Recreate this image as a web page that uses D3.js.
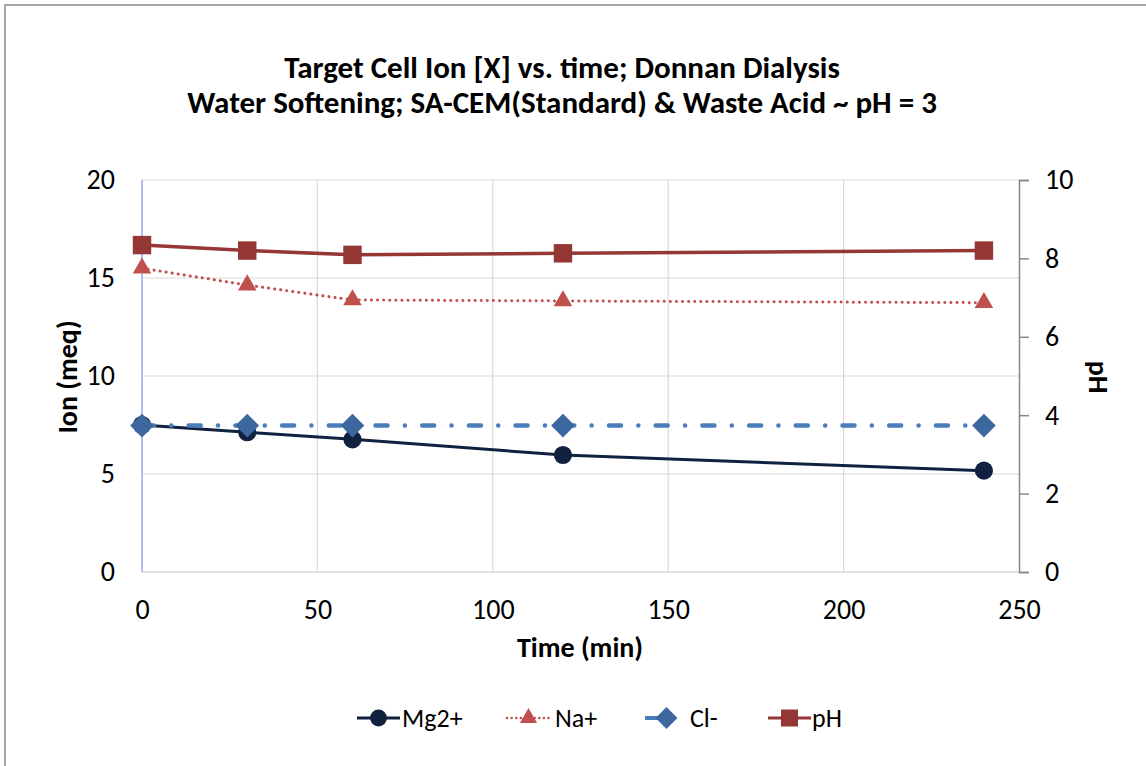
<!DOCTYPE html>
<html><head><meta charset="utf-8">
<script src="https://cdn.jsdelivr.net/npm/d3@7"></script>
<style>body{margin:0;background:#fff;} svg{display:block;font-family:Calibri,Carlito,Lato,"Open Sans",sans-serif;}</style>
</head><body><svg id="c" width="1146" height="766"></svg>
<script>
const times = [0, 30, 60, 120, 240];
const mg = [7.5, 7.13, 6.77, 5.97, 5.17];
const na = [15.5, 14.64, 13.88, 13.83, 13.74];
const cl = [7.47, 7.47, 7.47, 7.47, 7.47];
const ph = [8.34, 8.2, 8.09, 8.13, 8.2];
const xTicks = [0, 50, 100, 150, 200, 250];
const yTicks = [0, 5, 10, 15, 20];
const y2Ticks = [0, 2, 4, 6, 8, 10];
const titleLines = ["Target Cell Ion [X] vs. time; Donnan Dialysis", "Water Softening; SA-CEM(Standard) & Waste Acid ~ pH = 3"];

const FONT = 'Calibri,Carlito,Lato,"Open Sans",sans-serif';
const svg = d3.select("#c");
svg.append("rect").attr("x",5).attr("y",5).attr("width",1160).attr("height",780)
  .attr("fill","#fff").attr("stroke","#a6a6a6").attr("stroke-width",2);

const L=142, R=1019, T=180, B=572;
const x = d3.scaleLinear().domain([0,250]).range([L,R]);
const y = d3.scaleLinear().domain([0,20]).range([B,T]);
const y2 = d3.scaleLinear().domain([0,10]).range([B,T]);
const FS = 28;

svg.append("g").selectAll("line").data(yTicks.filter(d=>d>0)).join("line")
  .attr("x1",L).attr("x2",R).attr("y1",d=>y(d)).attr("y2",d=>y(d)).attr("stroke","#d9d9d9").attr("stroke-width",1.2);
svg.append("g").selectAll("line").data(xTicks.filter(d=>d>0&&d<250)).join("line")
  .attr("y1",T).attr("y2",B).attr("x1",d=>x(d)).attr("x2",d=>x(d)).attr("stroke","#d9d9d9").attr("stroke-width",1.2);
svg.append("line").attr("x1",L).attr("x2",R).attr("y1",B).attr("y2",B).attr("stroke","#d9d9d9").attr("stroke-width",1.5);
svg.append("line").attr("x1",L).attr("x2",L).attr("y1",T).attr("y2",B).attr("stroke","#9aa6ea").attr("stroke-width",1.5);

const ra = svg.append("g").attr("transform",`translate(${R},0)`)
  .call(d3.axisRight(y2).tickValues(y2Ticks).tickSize(10).tickSizeOuter(10).tickPadding(16))
  .attr("font-family",FONT).attr("font-size",FS);
ra.select(".domain").attr("stroke","#868686").attr("stroke-width",1.5);
ra.selectAll(".tick line").attr("stroke","#868686").attr("stroke-width",1.5);
ra.selectAll("text").attr("fill","#000");

const la = svg.append("g").attr("transform",`translate(${L},0)`)
  .call(d3.axisLeft(y).tickValues(yTicks).tickSize(0).tickPadding(27))
  .attr("font-family",FONT).attr("font-size",FS);
la.select(".domain").remove();
la.selectAll("text").attr("fill","#000");
const ba = svg.append("g").attr("transform",`translate(0,${B})`)
  .call(d3.axisBottom(x).tickValues(xTicks).tickSize(0).tickPadding(27))
  .attr("font-family",FONT).attr("font-size",FS);
ba.select(".domain").remove();
ba.selectAll("text").attr("fill","#000");

svg.append("text").attr("text-anchor","middle").attr("font-weight","bold").attr("font-size",31)
  .selectAll("tspan").data(titleLines).join("tspan").attr("x",562).attr("y",(d,i)=>78+i*35).text(d=>d);
svg.append("text").attr("x",580).attr("y",657).attr("text-anchor","middle").attr("font-weight","bold").attr("font-size",28).text("Time (min)");
svg.append("text").attr("transform","translate(77,377) rotate(-90)").attr("text-anchor","middle").attr("font-weight","bold").attr("font-size",28).text("Ion (meq)");
svg.append("text").attr("transform","translate(1089,377) rotate(90)").attr("text-anchor","middle").attr("font-weight","bold").attr("font-size",28).text("pH");

const diamond = {draw(ctx,size){const r=Math.sqrt(size/2);ctx.moveTo(0,-r);ctx.lineTo(r,0);ctx.lineTo(0,r);ctx.lineTo(-r,0);ctx.closePath();}};
const series = [
  {name:"Mg2+", vals:mg, sc:y, color:"#10223f", dash:null, width:3, cap:"butt", shape:d3.symbolCircle, size:260, mcolor:"#10223f"},
  {name:"Na+", vals:na, sc:y, color:"#c0504d", dash:"0.1,6", width:3, cap:"round", shape:d3.symbolTriangle, size:150, mcolor:"#c0504d"},
  {name:"Cl-", vals:cl, sc:y, color:"#4a7ebb", dash:"12,17.3,0.1,17.3", width:4.5, cap:"round", shape:diamond, size:280, mcolor:"#3d679f"},
  {name:"pH", vals:ph, sc:y2, color:"#953735", dash:null, width:3.5, cap:"butt", shape:d3.symbolSquare, size:340, mcolor:"#953735"}
];
const line = sc => d3.line().x(d=>x(d[0])).y(d=>sc(d[1]));
series.forEach(s=>{
  const pts = times.map((t,i)=>[t,s.vals[i]]);
  const p = svg.append("path").attr("d",line(s.sc)(pts)).attr("fill","none")
    .attr("stroke",s.color).attr("stroke-width",s.width).attr("stroke-linecap",s.cap);
  if(s.dash) p.attr("stroke-dasharray",s.dash);
  svg.append("g").selectAll("path").data(pts).join("path")
    .attr("transform",d=>`translate(${x(d[0])},${s.sc(d[1])})`)
    .attr("d",d3.symbol().type(s.shape).size(s.size)).attr("fill",s.mcolor);
});

const legX = [357, 507, 645, 768];
const legTx = [45, 48, 45, 44];
const legLen = [43, 43, 30, 43];
series.forEach((s,i)=>{
  const g = svg.append("g").attr("transform",`translate(${legX[i]},718)`);
  const l = g.append("line").attr("x1",0).attr("x2",legLen[i]).attr("stroke",s.color).attr("stroke-width",s.name==="Cl-"?4:3);
  if(s.name==="Na+") l.attr("stroke-dasharray","0.1,4.5").attr("stroke-linecap","round").attr("stroke-width",2.5);
  g.append("path").attr("transform","translate(21.5,0)").attr("d",d3.symbol().type(s.shape).size(s.size*0.85)).attr("fill",s.mcolor);
  g.append("text").attr("x",legTx[i]).attr("y",9).attr("font-size",26).text(s.name);
});
</script></body></html>
